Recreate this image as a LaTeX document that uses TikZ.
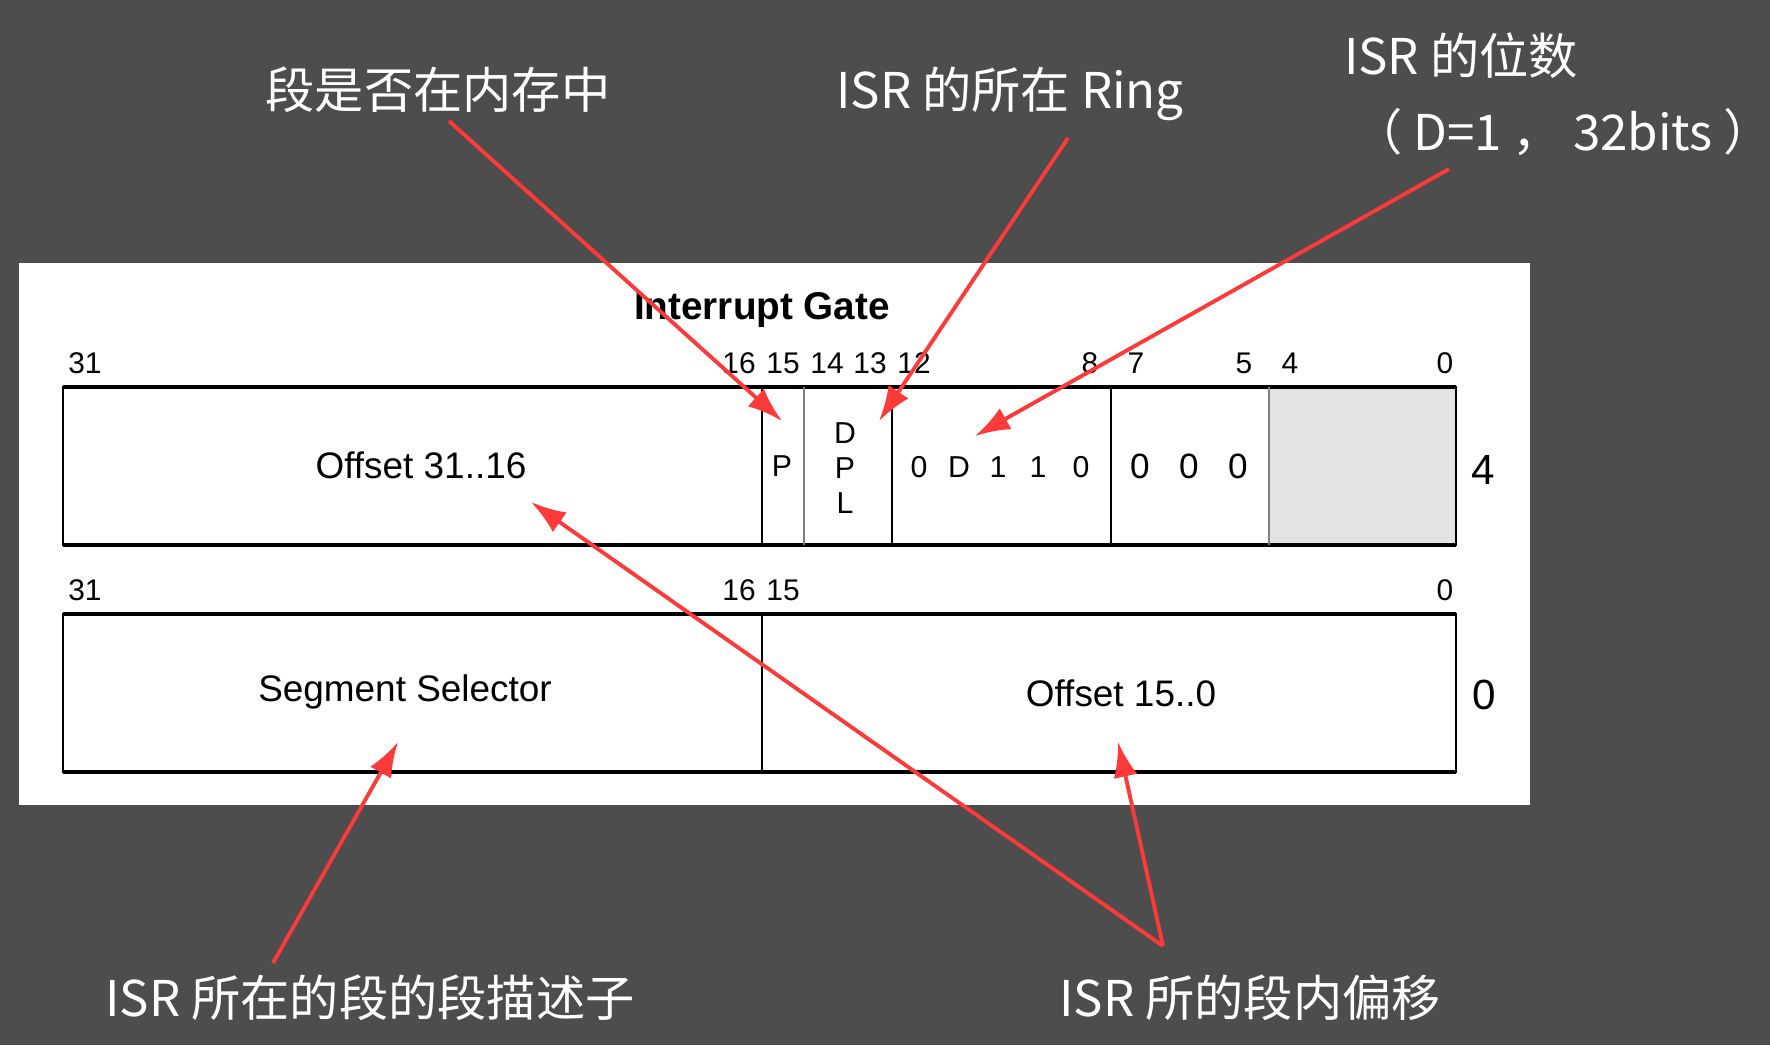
\documentclass[tikz,border=0pt]{standalone}
\usepackage{fontspec}
\setmainfont{Liberation Sans}
\newfontfamily\cjk{Noto Sans CJK SC}
\usepackage{tikz}
\definecolor{hintergrund}{RGB}{77,77,77}
\definecolor{pfeilrot}{RGB}{252,58,58}
\definecolor{feldgrau}{RGB}{227,227,227}
\usetikzlibrary{arrows.meta}

\begin{document}
\begin{tikzpicture}[x=0.01cm, y=-0.01cm,
			>={Latex[length=3.5mm,width=2.4mm]},   %Pfeilspitzen
			note/.style={text=white, font=\cjk\fontsize{14}{17}\selectfont, inner sep=1pt},
			bit/.style={font=\fontsize{8.5}{10}\selectfont, inner sep=0pt},
			feld/.style={font=\fontsize{10.5}{12}\selectfont, inner sep=0pt},
			klein/.style={font=\fontsize{8.6}{10}\selectfont, inner sep=0pt, align=center},
			pfeil/.style={->, draw=pfeilrot, fill=pfeilrot, line width=1.1pt}]
			%Hintergrund
			\useasboundingbox (0,0) rectangle (1770,1045);
			\fill[hintergrund] (0,0) rectangle (1770,1045);
			\fill[white] (19,263) rectangle (1530,805);
			\node[font=\bfseries\fontsize{11}{13}\selectfont] (titel) at (762,310) {Interrupt Gate};
			% obere Zeile
			\fill[feldgrau] (1269,387) rectangle (1456,545);
			\draw[line width=0.5pt] (63,387) rectangle (1456,545);
			\draw[line width=1.1pt] (63,387) -- (1456,387) (63,545) -- (1456,545);
			\foreach \x in {762,892,1111} \draw[line width=0.4pt] (\x,387) -- (\x,545);
			\foreach \x in {804,1269} \draw[gray, line width=0.6pt] (\x,387) -- (\x,545);
			\foreach \x/\n in {85/31,739/16,783/15,827/14,870/13,914/12,1090/8,1136/7,1244/5,1290/4,1445/0}
				\node[bit] (a\n) at (\x,363) {\n};
			\node[feld] (hoch) at (421,465) {Offset 31..16};
			\node[klein] (p) at (782,466) {P};
			\node[klein] (dpl) at (845,468) {D\\P\\L};
			\foreach \x/\t [count=\i] in {919/0,959/D,998/1,1038/1,1081/0}
				\node[klein] (typ\i) at (\x,467) {\t};
			\foreach \x [count=\i] in {1140,1189,1238}
				\node[font=\fontsize{10}{12}\selectfont, inner sep=0pt] (null\i) at (\x,466) {0};
			\node[font=\fontsize{12}{14}\selectfont] (vier) at (1483,470) {4};
			% untere Zeile
			\draw[line width=0.5pt] (63,614) rectangle (1456,772);
			\draw[line width=1.1pt] (63,614) -- (1456,614) (63,772) -- (1456,772);
			\draw[line width=0.4pt] (762,614) -- (762,772);
			\foreach \x/\n in {85/31,739/16,783/15,1445/0}
				\node[bit] (b\n) at (\x,590) {\n};
			\node[feld] (sel) at (405,692) {Segment Selector};
			\node[feld] (tief) at (1121,693) {Offset 15..0};
			\node[font=\fontsize{12}{14}\selectfont] (nullz) at (1484,695) {0};
			%Beschriftung
			\node[note] (praesent) at (438,90) {段是否在内存中};
			\node[note] (ring) at (1010,94) {ISR 的所在 Ring};
			\node[note] (breite) at (1461,56) {ISR 的位数};
			\node[note] (breite2) at (1563,132) {（ D=1 ， 32bits ）};
			\node[note] (deskr) at (370,998) {ISR 所在的段的段描述子};
			\node[note] (versatz) at (1250,998) {ISR 所的段内偏移};
			%Pfeile
			\coordinate (pS) at (449,121);   \coordinate (pZ) at (782,421);
			\coordinate (rS) at (1068,138);  \coordinate (rZ) at (879,421);
			\coordinate (dS) at (1449,169);  \coordinate (dZ) at (975,436);
			\coordinate (sS) at (273,963);   \coordinate (sZ) at (398,742);
			\coordinate (oS) at (1163,946);  \coordinate (oZ1) at (531,502);  \coordinate (oZ2) at (1118,742);
			\draw[pfeil] (pS) -- (pZ);
			\draw[pfeil] (rS) -- (rZ);
			\draw[pfeil] (dS) -- (dZ);
			\draw[pfeil] (sS) -- (sZ);
			\draw[pfeil] (oS) -- (oZ1);
			\draw[pfeil] (oS) -- (oZ2);
		\end{tikzpicture}
\end{document}
